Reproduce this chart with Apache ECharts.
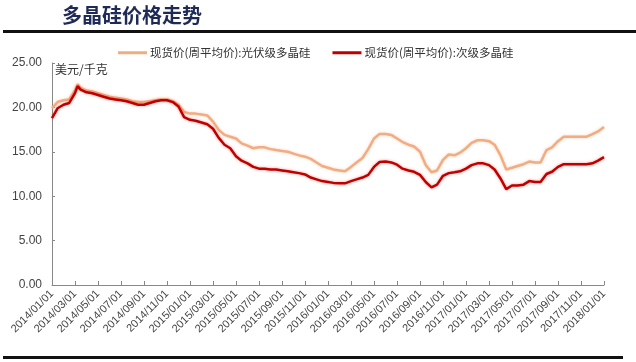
<!DOCTYPE html>
<html>
<head>
<meta charset="utf-8">
<script src="https://cdn.jsdelivr.net/npm/echarts@6/dist/echarts.min.js"></script>
<style>
html,body{margin:0;padding:0;background:#fff;}
#c{width:636px;height:362px;}
</style>
</head>
<body>
<div id="c"></div>
<script>
const titleText = '多晶硅价格走势';
const unitText = '美元/千克';
const seriesNames = ['现货价(周平均价):光伏级多晶硅', '现货价(周平均价):次级多晶硅'];
const tickLabels = ['2014/01/01','2014/03/01','2014/05/01','2014/07/01','2014/09/01','2014/11/01',
  '2015/01/01','2015/03/01','2015/05/01','2015/07/01','2015/09/01','2015/11/01',
  '2016/01/01','2016/03/01','2016/05/01','2016/07/01','2016/09/01','2016/11/01',
  '2017/01/01','2017/03/01','2017/05/01','2017/07/01','2017/09/01','2017/11/01','2018/01/01'];
const dates = ['2014/01/01','2014/01/16','2014/02/01','2014/02/15','2014/03/01','2014/03/08','2014/03/16',
  '2014/04/01','2014/04/16','2014/05/01','2014/05/16','2014/06/01','2014/06/16','2014/07/01','2014/07/16',
  '2014/08/01','2014/08/16','2014/09/01','2014/09/16','2014/10/01','2014/10/16','2014/11/01','2014/11/16',
  '2014/12/01','2014/12/16','2015/01/01','2015/01/16','2015/02/01','2015/02/15','2015/03/01','2015/03/16',
  '2015/04/01','2015/04/16','2015/05/01','2015/05/16','2015/06/01','2015/06/16','2015/07/01','2015/07/16',
  '2015/08/01','2015/08/16','2015/09/01','2015/09/16','2015/10/01','2015/10/16','2015/11/01','2015/11/16',
  '2015/12/01','2015/12/16','2016/01/01','2016/01/16','2016/02/01','2016/02/15','2016/03/01','2016/03/16',
  '2016/04/01','2016/04/16','2016/05/01','2016/05/16','2016/06/01','2016/06/16','2016/07/01','2016/07/16',
  '2016/08/01','2016/08/16','2016/09/01','2016/09/16','2016/10/01','2016/10/16','2016/11/01','2016/11/16',
  '2016/12/01','2016/12/16','2017/01/01','2017/01/16','2017/02/01','2017/02/15','2017/03/01','2017/03/16',
  '2017/04/01','2017/04/16','2017/05/01','2017/05/16','2017/06/01','2017/06/16','2017/07/01','2017/07/16',
  '2017/08/01','2017/08/16','2017/09/01','2017/09/16','2017/10/01','2017/10/16','2017/11/01','2017/11/16',
  '2017/12/01','2017/12/16','2018/01/01'];
const solarGrade = [19.9,20.6,20.8,20.9,21.9,22.6,22.2,
  21.9,21.8,21.6,21.4,21.2,21.1,21.0,20.9,
  20.7,20.6,20.6,20.7,20.8,20.9,20.9,20.7,
  20.3,19.5,19.3,19.3,19.2,19.1,18.4,17.5,
  16.9,16.7,16.5,15.95,15.7,15.4,15.5,15.5,
  15.3,15.2,15.1,15.0,14.8,14.6,14.45,14.2,
  13.8,13.4,13.2,13.0,12.9,12.8,13.3,13.8,
  14.3,15.3,16.5,17.0,17.0,16.9,16.5,16.1,
  15.8,15.6,15.0,13.5,12.7,12.9,14.1,14.7,
  14.6,14.9,15.4,16.0,16.3,16.3,16.2,15.8,
  14.6,13.0,13.2,13.4,13.6,13.9,13.8,13.8,
  15.2,15.5,16.2,16.7,16.7,16.7,16.7,16.7,
  17.0,17.3,17.8];
const secondGrade = [18.8,19.9,20.3,20.5,21.6,22.4,22.0,
  21.7,21.6,21.4,21.2,21.0,20.9,20.8,20.7,
  20.5,20.3,20.3,20.5,20.7,20.8,20.8,20.6,
  20.1,18.9,18.6,18.5,18.3,18.1,17.6,16.6,
  15.8,15.4,14.5,14.0,13.7,13.3,13.1,13.1,
  13.0,13.0,12.9,12.8,12.7,12.6,12.45,12.1,
  11.9,11.7,11.6,11.5,11.45,11.45,11.7,11.9,
  12.1,12.4,13.3,13.85,13.9,13.8,13.55,13.1,
  12.9,12.75,12.4,11.6,11.0,11.3,12.3,12.6,
  12.7,12.8,13.1,13.5,13.7,13.7,13.5,13.0,
  12.0,10.8,11.2,11.2,11.3,11.7,11.6,11.6,
  12.5,12.75,13.3,13.6,13.6,13.6,13.6,13.6,
  13.7,14.0,14.4];

function toMonths(s){
  const p = s.split('/').map(Number);
  const dim = new Date(p[0], p[1], 0).getDate();
  return (p[0]-2014)*12 + (p[1]-1) + (p[2]-1)/dim;
}
const FONT = 'Liberation Sans, Arial, "Noto Sans CJK SC", sans-serif';
const chart = echarts.init(document.getElementById('c'), null, {renderer:'canvas'});
chart.setOption({
  animation:false,
  backgroundColor:'#fff',
  textStyle:{fontFamily:FONT},
  graphic:[
    {type:'text', left:62, top:5, style:{text:titleText, fill:'#1f2a56', font:'bold 20px "Noto Sans CJK SC", sans-serif'}},
    {type:'rect', shape:{x:3, y:30, width:633, height:3}, style:{fill:'#111'}},
    {type:'rect', shape:{x:3, y:356, width:620, height:3}, style:{fill:'#111'}},
    {type:'text', left:55, top:63, style:{text:unitText, fill:'#333', font:'12px "Noto Sans CJK SC", sans-serif'}}
  ],
  legend:{
    left:113, top:42, itemWidth:29, itemHeight:3, itemGap:22, icon:'rect',
    textStyle:{fontSize:11.5, color:'#333', fontFamily:'"Noto Sans CJK SC", sans-serif', padding:[0,0,0,-2]},
    data:seriesNames
  },
  grid:{left:52, right:32, top:63, bottom:77, containLabel:false},
  xAxis:{
    type:'value', min:0, max:48, interval:2,
    axisLine:{lineStyle:{color:'#888', width:1}},
    axisTick:{inside:true, length:4, lineStyle:{color:'#888'}},
    splitLine:{show:false},
    axisLabel:{rotate:45, fontSize:11, color:'#444', margin:7,
      formatter:function(v){ return tickLabels[Math.round(v/2)] || ''; }}
  },
  yAxis:{
    type:'value', min:0, max:25, interval:5,
    axisLine:{show:true, lineStyle:{color:'#888', width:1}},
    axisTick:{show:true, inside:true, length:3, lineStyle:{color:'#888'}},
    splitLine:{show:false},
    axisLabel:{fontSize:12, color:'#444', margin:10, formatter:function(v){return v.toFixed(2);}}
  },
  series:[
    {name:seriesNames[0], type:'line', showSymbol:false, color:'#F2AC82',
      lineStyle:{width:2.5, color:'#F2AC82', shadowColor:'rgba(242,172,130,0.5)', shadowBlur:3},
      data:dates.map(function(d,i){return [toMonths(d), solarGrade[i]];})},
    {name:seriesNames[1], type:'line', showSymbol:false, color:'#C00000',
      lineStyle:{width:2.5, color:'#C00000', shadowColor:'rgba(230,60,40,0.5)', shadowBlur:3},
      data:dates.map(function(d,i){return [toMonths(d), secondGrade[i]];})}
  ]
});
</script>
</body>
</html>
